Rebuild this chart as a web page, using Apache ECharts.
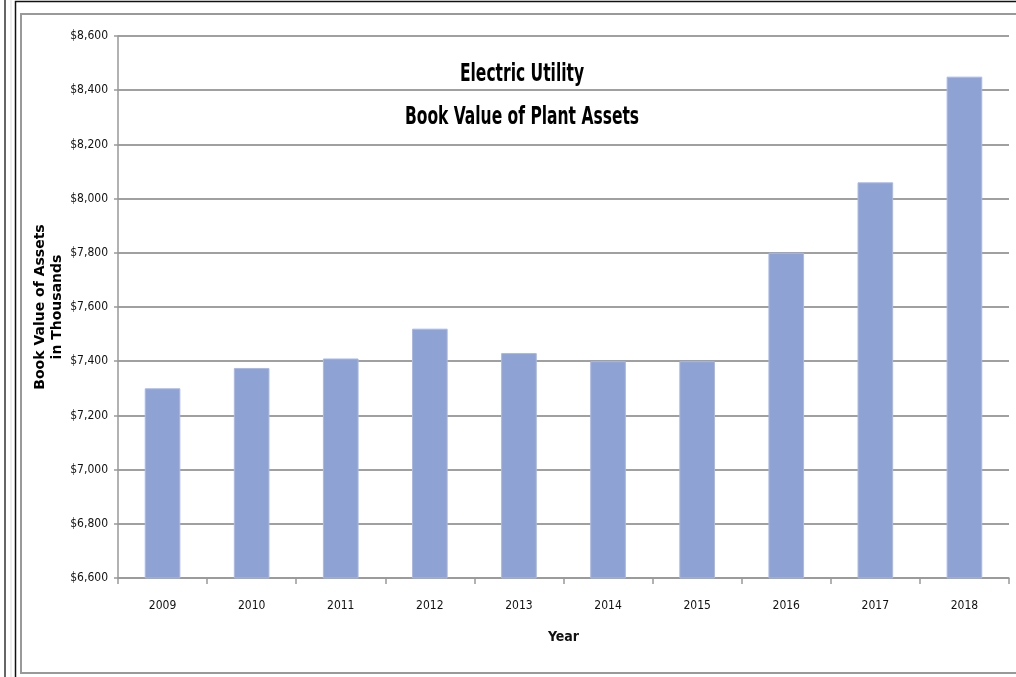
<!DOCTYPE html>
<html>
<head>
<meta charset="utf-8">
<script src="https://cdn.jsdelivr.net/npm/echarts@6/dist/echarts.min.js"></script>
<style>
  html, body { margin: 0; padding: 0; background: #fff; }
  #chart { width: 1016px; height: 677px; }
</style>
</head>
<body>
<div id="chart"></div>
<script>
// chart data
const years = ['2009', '2010', '2011', '2012', '2013', '2014', '2015', '2016', '2017', '2018']
const bookValues = [7300, 7375, 7410, 7520, 7430, 7400, 7400, 7800, 8060, 8450]
const titleLines = ['Electric Utility', 'Book Value of Plant Assets']

const narrow = '"Liberation Sans Narrow", "DejaVu Sans Condensed", sans-serif'

const chart = echarts.init(document.getElementById('chart'))

// title drawn squeezed, the original uses a narrow font
const titleText = titleLines.map((line, i) => ({
  type: 'text',
  x: 522,
  y: 74 + i * 43,
  scaleX: 0.69,
  z: 10,
  style: {
    text: line,
    fill: '#000',
    font: 'bold 25px "DejaVu Sans Condensed", sans-serif',
    textAlign: 'center',
    textVerticalAlign: 'middle'
  }
}))

chart.setOption({
  backgroundColor: '#fff',
  animation: false,
  grid: { left: 118, right: 7, top: 36, bottom: 99 },
  xAxis: {
    type: 'category',
    data: years,
    name: 'Year',
    nameLocation: 'middle',
    nameGap: 52,
    nameTextStyle: { fontFamily: narrow, fontSize: 14, fontWeight: 'bold', color: '#111' },
    axisLine: { lineStyle: { color: '#999', width: 1.5 } },
    axisTick: { show: true, length: 6, lineStyle: { color: '#999', width: 1.5 } },
    axisLabel: { fontFamily: narrow, fontSize: 12, color: '#111', margin: 22 }
  },
  yAxis: {
    type: 'value',
    min: 6600,
    max: 8600,
    interval: 200,
    name: 'Book Value of Assets\nin Thousands',
    nameLocation: 'middle',
    nameGap: 52,
    nameMoveOverlap: false,
    nameTextStyle: {
      fontFamily: '"DejaVu Sans", sans-serif',
      fontSize: 14,
      fontWeight: 'bold',
      color: '#000',
      lineHeight: 17
    },
    axisLine: { show: true, lineStyle: { color: '#999', width: 1.5 } },
    axisTick: { show: true, length: 4, lineStyle: { color: '#999', width: 1.5 } },
    axisLabel: {
      fontFamily: narrow,
      fontSize: 12,
      color: '#111',
      margin: 10,
      formatter: v => '$' + v.toLocaleString('en-US')
    },
    splitLine: { lineStyle: { color: '#a0a0a0', width: 2 } }
  },
  series: [
    {
      type: 'bar',
      data: bookValues,
      barWidth: '40%',
      itemStyle: { color: '#8fa2d4', borderColor: '#a9b9e2', borderWidth: 1 }
    }
  ],
  graphic: [
    // spreadsheet frame around the chart
    { type: 'line', shape: { x1: 5, y1: 0, x2: 5, y2: 677 }, style: { stroke: '#333', lineWidth: 1.5 } },
    { type: 'line', shape: { x1: 11, y1: 0, x2: 11, y2: 677 }, style: { stroke: '#ddd', lineWidth: 1 } },
    { type: 'rect', shape: { x: 15.5, y: 1.5, width: 1010, height: 690 }, style: { fill: null, stroke: '#111', lineWidth: 1.5 } },
    { type: 'rect', shape: { x: 21, y: 14, width: 1010, height: 659 }, style: { fill: null, stroke: '#999', lineWidth: 2 } },
    ...titleText
  ]
})
</script>
</body>
</html>
